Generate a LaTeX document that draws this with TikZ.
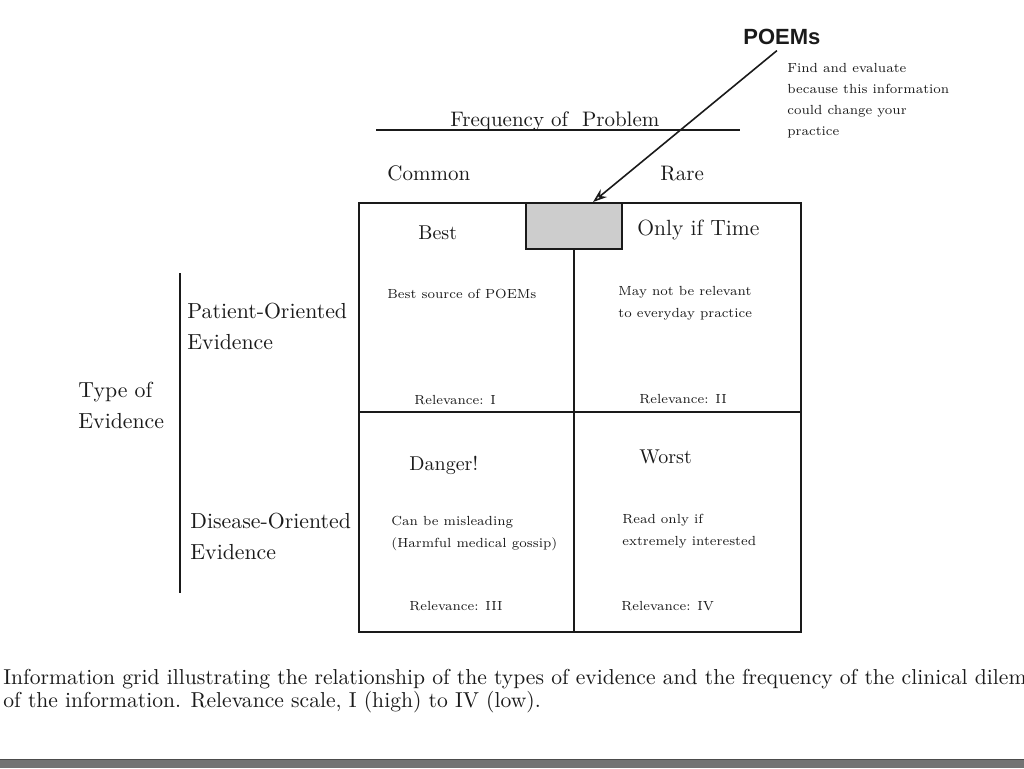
\documentclass[tikz,border=0pt]{standalone}
\usepackage{fontspec}
\newfontfamily\poemsfont{Liberation Sans}
\usetikzlibrary{arrows.meta, positioning}
\definecolor{ink}{HTML}{1A1A1A}
\definecolor{stipple}{HTML}{CDCDCD}
\definecolor{band}{HTML}{737373}

\begin{document}
\begin{tikzpicture}[x=0.5pt, y=-0.5pt, ink,
    axislabel/.style={font=\fontsize{10.9}{15.5}\selectfont, align=left, inner sep=0pt, anchor=base west},
    cellhead/.style={font=\fontsize{10}{12}\selectfont, inner sep=0pt, anchor=base west},
    cellnote/.style={font=\fontsize{6.6}{11}\selectfont, align=left, inner sep=0pt, anchor=base west},
    grid line/.style={line width=0.9pt}]
    \useasboundingbox (0,0) rectangle (1024,768);
    % POEMs call-out
    \node[font=\poemsfont\bfseries\fontsize{11}{13}\selectfont, inner sep=0pt, anchor=base west] (poems) at (743,44) {POEMs};
    \node[cellnote, font=\fontsize{6.6}{10.5}\selectfont] (poemsnote) at (787,135) {Find and evaluate\\because this information\\could change your\\practice};
    % frequency axis
    \node[axislabel, font=\fontsize{10.5}{15.5}\selectfont] (freq) at (450,126) {Frequency of\ \ Problem};
    \draw[line width=0.8pt] (376,130) -- (740,130);
    \node[axislabel, font=\fontsize{10.5}{15.5}\selectfont] (common) at (387,180) {Common};
    \node[axislabel, font=\fontsize{10.5}{15.5}\selectfont] (rare) at (660,180) {Rare};
    % evidence axis
    \draw[line width=0.8pt] (180,273) -- (180,593);
    \node[axislabel] (type) at (78,428) {Type of\\Evidence};
    \node[axislabel] (patient) at (187,349) {Patient-Oriented\\Evidence};
    \node[axislabel] (disease) at (190,559) {Disease-Oriented\\Evidence};
    % grid
    \draw[grid line] (359,203) rectangle (801,632);
    \draw[grid line] (574,203) -- (574,632);
    \draw[grid line] (359,412) -- (801,412);
    \node[draw, line width=1pt, fill=stipple, minimum width=48pt, minimum height=23pt, inner sep=0pt] (shade) at (574,226) {};
    % cells
    \node[cellhead] (best) at (418,239) {Best};
    \node[cellhead, font=\fontsize{11}{13}\selectfont] (onlyif) at (637,235) {Only if Time};
    \node[cellnote] (bestnote) at (387,298) {Best source of POEMs};
    \node[cellnote] (onlyifnote) at (618,317) {May not be relevant\\to everyday practice};
    \node[cellnote] (rel1) at (414,404) {Relevance: I};
    \node[cellnote] (rel2) at (639,403) {Relevance: II};
    \node[cellhead] (danger) at (409,470) {Danger!};
    \node[cellhead] (worst) at (639,463) {Worst};
    \node[cellnote] (dangernote) at (391,547) {Can be misleading\\(Harmful medical gossip)};
    \node[cellnote] (worstnote) at (622,545) {Read only if\\extremely interested};
    \node[cellnote] (rel3) at (409,610) {Relevance: III};
    \node[cellnote] (rel4) at (621,610) {Relevance: IV};
    % arrow to the shaded box
    \draw[line width=0.8pt, -{Stealth[open, length=7pt, width=5pt]}] ([xshift=-2.5pt, yshift=-3pt]poems.south) -- ([xshift=9.5pt]shade.north);
    % caption
    \node[axislabel, font=\fontsize{10.8}{11.5}\selectfont] (caption) at (3,707) {Information grid illustrating the relationship of the types of evidence and the frequency of the clinical dilem\\of the information. Relevance scale, I (high) to IV (low).};
    % page edge
    \fill[band] (0,760) rectangle (1024,768);
    \draw[black!70, line width=0.8pt] (0,759.5) -- (1024,759.5);
\end{tikzpicture}
\end{document}
